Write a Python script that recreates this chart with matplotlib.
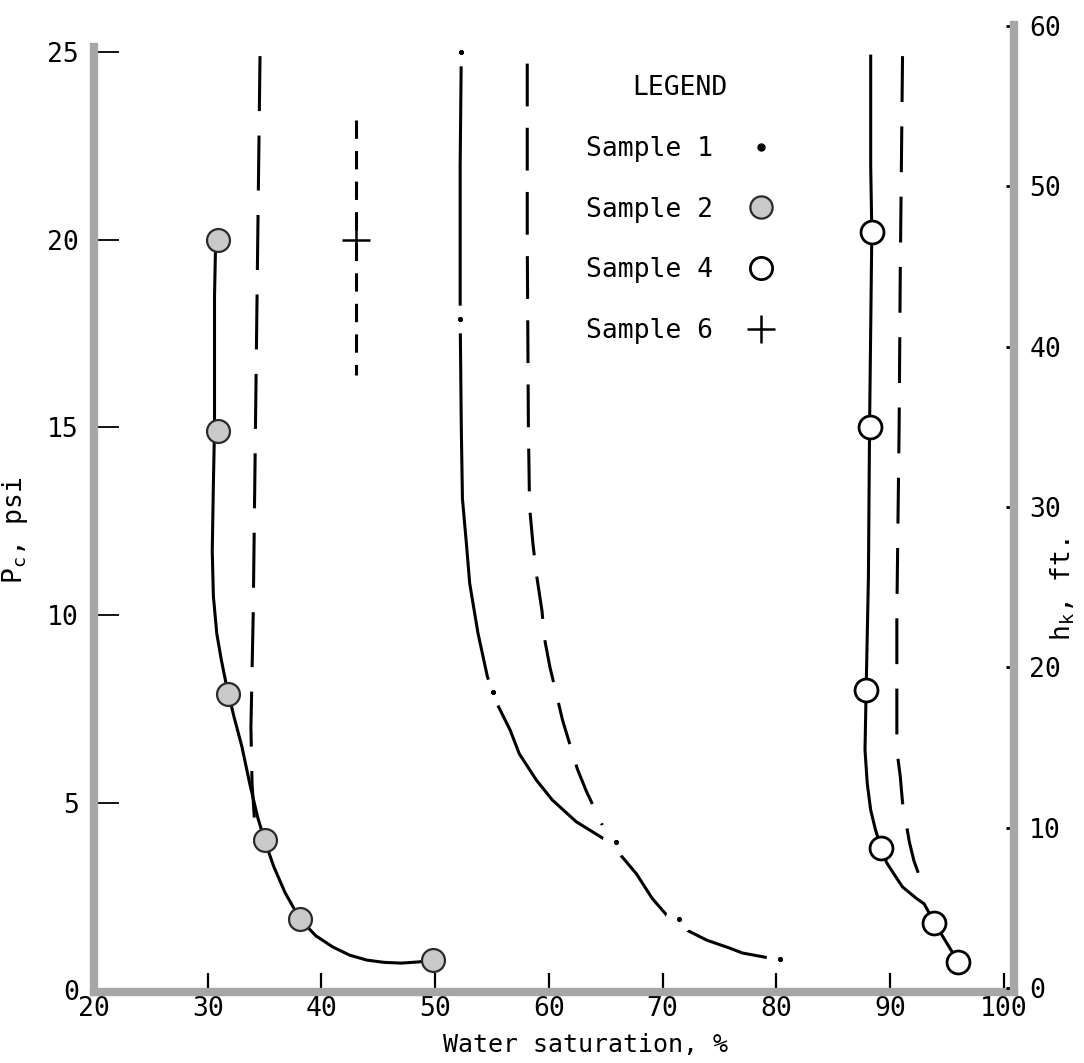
#!/usr/bin/env python3
# -*- coding: utf-8 -*-
"""
capillary pressure vs water saturation (scanned figure redraw)
"""
import matplotlib
matplotlib.use('Agg')
import matplotlib.pyplot as plt
from matplotlib.lines import Line2D

plt.rcParams['font.family'] = ['DejaVu Sans Mono', 'DejaVu Sans']
plt.rcParams['font.size'] = 19

# Sample 1 - dash/dot curve, the dots are the measured points
s1_sw = [52.3, 52.2, 55.1, 65.9, 71.4, 80.3]
s1_pc = [25.0, 17.9, 7.95, 3.94, 1.89, 0.82]
s1_curve_sw = [52.3, 52.2, 52.2, 52.3, 52.4, 52.75, 53.04, 53.77, 54.6, 55.1,
               55.5, 56.6, 57.4, 58.9, 60.3, 62.4, 64.8, 65.9, 66.2, 67.7,
               69.1, 70.5, 71.4, 71.8, 73.9, 75.9, 77.0, 79.5, 80.3]
s1_curve_pc = [25.0, 22.0, 18.0, 15.0, 13.1, 11.9, 10.84, 9.51, 8.35, 7.95,
               7.6, 6.93, 6.3, 5.6, 5.07, 4.49, 4.04, 3.85, 3.64, 3.1,
               2.44, 1.95, 1.8, 1.65, 1.33, 1.12, 0.99, 0.85, 0.82]

# Sample 2 - grey circles, solid curve
s2_sw = [30.9, 30.9, 31.8, 35.0, 38.1, 49.8]
s2_pc = [20.0, 14.9, 7.9, 4.0, 1.9, 0.8]
s2_curve_sw = [30.7, 30.6, 30.6, 30.6, 30.5, 30.4, 30.5, 30.8, 31.2, 31.6,
               32.3, 33.0, 33.7, 34.4, 35.0, 35.8, 36.8, 38.1, 39.5, 41.0,
               42.5, 44.0, 45.5, 47.0, 48.5, 49.8]
s2_curve_pc = [20.0, 18.5, 16.5, 15.0, 13.5, 11.7, 10.5, 9.5, 8.8, 8.2,
               7.3, 6.5, 5.5, 4.6, 4.0, 3.3, 2.6, 1.9, 1.45, 1.15,
               0.93, 0.8, 0.74, 0.72, 0.75, 0.8]

# Sample 4 - open circles, solid curve
s4_sw = [88.4, 88.2, 87.9, 89.2, 93.9, 96.0]
s4_pc = [20.2, 15.0, 8.0, 3.8, 1.8, 0.75]
s4_curve_sw = [88.3, 88.3, 88.4, 88.2, 88.1, 87.9, 87.8, 88.0, 88.3, 88.7,
               89.2, 89.7, 90.4, 91.1, 92.3, 93.0, 93.9, 96.0]
s4_curve_pc = [24.9, 22.0, 20.2, 15.0, 11.0, 8.0, 6.4, 5.5, 4.8, 4.3,
               3.8, 3.4, 3.07, 2.75, 2.45, 2.3, 1.8, 0.75]

# Sample 6 - one point and short dashed line
s6_sw = [43.0]
s6_pc = [20.0]
s6_line_sw = [43.0, 43.0]
s6_line_pc = [23.2, 16.4]

# long dashed curves (no legend entry)
d1_sw = [34.6, 34.4, 34.2, 34.0, 33.8, 33.9, 34.1]
d1_pc = [24.9, 20.0, 15.0, 10.0, 7.0, 5.5, 4.6]
d2_sw = [58.1, 58.1, 58.2, 58.25, 58.3, 58.6, 58.9, 59.4, 59.6, 60.1, 60.5,
         61.2, 61.7, 62.5, 63.3, 64.7]
d2_pc = [24.7, 20.0, 15.0, 14.0, 12.9, 11.9, 11.1, 10.1, 9.4, 8.6, 8.1,
         7.2, 6.7, 5.9, 5.3, 4.4]
d3_sw = [91.1, 90.9, 90.8, 90.6, 90.6, 90.9, 91.1, 91.7, 92.1, 93.1]
d3_pc = [24.9, 19.1, 15.0, 10.0, 6.4, 5.7, 5.0, 3.95, 3.45, 2.6]

x_ticks = [20, 30, 40, 50, 60, 70, 80, 90, 100]
pc_ticks = [0, 5, 10, 15, 20, 25]
h_ticks = [0, 10, 20, 30, 40, 50, 60]

ink = 'black'
grey_dot = '#c9c9c9'
spine_grey = '#a6a6a6'
lw = 2.2

fig = plt.figure(figsize=(10.84, 10.63), dpi=100)
ax = fig.add_axes([0.0867, 0.0668, 0.8487, 0.9097])
ax.set_xlim(20, 100.9)
ax.set_ylim(-0.05, 25.73)

# dashed curves
l, = ax.plot(d1_sw, d1_pc, color=ink, lw=lw)
l.set_dashes([18, 8])
l, = ax.plot(d2_sw, d2_pc, color=ink, lw=lw)
l.set_dashes([14, 7])
l, = ax.plot(d3_sw, d3_pc, color=ink, lw=lw)
l.set_dashes([15, 8])
l, = ax.plot(s6_line_sw, s6_line_pc, color=ink, lw=lw)
l.set_dashes([6, 4])

# sample curves
ax.plot(s1_curve_sw, s1_curve_pc, color=ink, lw=lw, zorder=3)
ax.plot(s2_curve_sw, s2_curve_pc, color=ink, lw=lw, zorder=3)
ax.plot(s4_curve_sw, s4_curve_pc, color=ink, lw=lw, zorder=3)

# points (white ring around sample 1 dots makes the dash-dot gaps)
ax.plot(s1_sw, s1_pc, ls='none', marker='o', ms=12, mfc=ink, mec='white',
        mew=8, zorder=4)
ax.plot(s2_sw, s2_pc, ls='none', marker='o', ms=16.5, mfc=grey_dot,
        mec='#2a2a2a', mew=1.6, zorder=5)
ax.plot(s4_sw, s4_pc, ls='none', marker='o', ms=16.5, mfc='white',
        mec=ink, mew=2.0, zorder=5)
ax.plot(s6_sw, s6_pc, ls='none', marker='+', ms=20, mew=1.8, color=ink,
        zorder=5)

# axes styling
ax.set_xticks(x_ticks)
ax.set_yticks(pc_ticks)
ax.tick_params(axis='x', direction='in', length=14, width=1.6, pad=3,
               labelsize=19)
ax.tick_params(axis='y', direction='in', length=18, width=1.3, pad=11,
               labelsize=19)
ax.spines['top'].set_visible(False)
ax.spines['right'].set_visible(False)
for side in ['left', 'bottom']:
    ax.spines[side].set_color(spine_grey)
    ax.spines[side].set_linewidth(6)
ax.spines['left'].set_bounds(-0.05, 25.15)

ax.set_xlabel('Water saturation, %', fontsize=18)
ax.xaxis.set_label_coords(0.534, -0.042)
ax.set_ylabel(r'P$_\mathregular{c}$, psi', fontsize=19)
ax.yaxis.set_label_coords(-0.07, 0.478)

# right axis, height in ft
ax2 = ax.twinx()
ax2.set_ylim(-0.25, 60.07)
ax2.set_yticks(h_ticks)
ax2.tick_params(axis='y', direction='in', length=6, width=2, pad=11,
                labelsize=19)
for side in ['left', 'top', 'bottom']:
    ax2.spines[side].set_visible(False)
ax2.spines['right'].set_color(spine_grey)
ax2.spines['right'].set_linewidth(6)
ax2.set_ylabel(r'h$_\mathregular{k}$, ft.', fontsize=19)
ax2.yaxis.set_label_coords(1.037, 0.416)

# legend
handles = [
    Line2D([], [], ls='none', marker='o', ms=5, color=ink),
    Line2D([], [], ls='none', marker='o', ms=16, mfc=grey_dot, mec='#2a2a2a',
           mew=1.6),
    Line2D([], [], ls='none', marker='o', ms=16, mfc='white', mec=ink, mew=2),
    Line2D([], [], ls='none', marker='+', ms=20, mew=1.8, color=ink),
]
labels = ['Sample 1', 'Sample 2', 'Sample 4', 'Sample 6']
leg = ax2.legend(handles, labels, title='LEGEND', markerfirst=False,
                 frameon=False, loc='upper left',
                 bbox_to_anchor=(0.52, 0.962), borderpad=0,
                 handlelength=1.0, handletextpad=1.35, labelspacing=1.32,
                 fontsize=19, title_fontsize=19)

fig.savefig('out.png', dpi=100)
